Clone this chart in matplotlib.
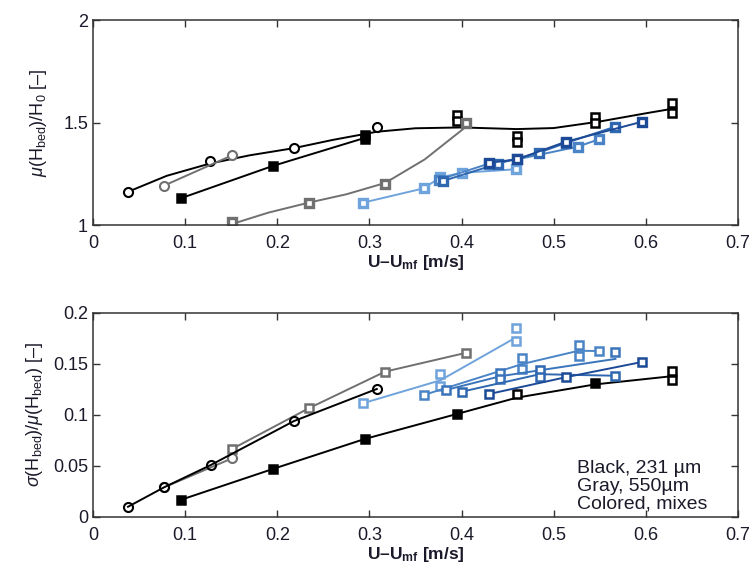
import numpy as np
import matplotlib
matplotlib.use('Agg')
import matplotlib.pyplot as plt

plt.rcParams['font.family'] = ['Liberation Sans', 'DejaVu Sans']
plt.rcParams['mathtext.fontset'] = 'custom'
plt.rcParams['mathtext.rm'] = 'Liberation Sans'
plt.rcParams['mathtext.it'] = 'Liberation Sans:italic'
plt.rcParams['mathtext.bf'] = 'Liberation Sans:bold'

# ---------------- top panel: mean bed height ----------------
# black 231 um, circles + fitted curve
top_blk_circ_x = [0.038, 0.127, 0.218, 0.308]
top_blk_circ_y = [1.162, 1.314, 1.376, 1.477]
top_blk_curve_x = [0.038, 0.08, 0.127, 0.17, 0.218, 0.26, 0.308, 0.35, 0.40, 0.46, 0.50, 0.55, 0.60, 0.63]
top_blk_curve_y = [1.162, 1.24, 1.30, 1.34, 1.375, 1.415, 1.455, 1.472, 1.476, 1.468, 1.473, 1.505, 1.545, 1.568]
# black open squares (stacked pairs)
top_blk_open_x = [0.395, 0.395, 0.46, 0.46, 0.545, 0.545, 0.628, 0.628]
top_blk_open_y = [1.535, 1.505, 1.436, 1.407, 1.528, 1.496, 1.594, 1.545]
# black filled squares
top_blk_fill_x = [0.095, 0.195, 0.295, 0.295]
top_blk_fill_y = [1.130, 1.288, 1.44, 1.42]
top_blk_fill_line_x = [0.095, 0.195, 0.295]
top_blk_fill_line_y = [1.130, 1.288, 1.425]
# gray 550 um
top_gry_circ_x = [0.077, 0.151]
top_gry_circ_y = [1.192, 1.340]
top_gry_sq_x = [0.151, 0.234, 0.317, 0.405]
top_gry_sq_y = [1.016, 1.109, 1.201, 1.496]
top_gry_curve_x = [0.151, 0.19, 0.234, 0.275, 0.317, 0.36, 0.405]
top_gry_curve_y = [1.005, 1.06, 1.109, 1.15, 1.205, 1.32, 1.48]
# mixes (coloured)
top_mix_x = [[0.293, 0.359, 0.377, 0.401, 0.459],
             [0.375, 0.43, 0.46, 0.526, 0.549],
             [0.38, 0.44, 0.484, 0.513, 0.567],
             [0.43, 0.46, 0.513, 0.596]]
top_mix_y = [[1.109, 1.179, 1.233, 1.255, 1.272],
             [1.22, 1.30, 1.32, 1.382, 1.418],
             [1.215, 1.30, 1.353, 1.40, 1.48],
             [1.304, 1.32, 1.406, 1.504]]

# ---------------- bottom panel: relative std ----------------
bot_blk_circ_x = [0.038, 0.077, 0.128, 0.218, 0.308]
bot_blk_circ_y = [0.010, 0.029, 0.051, 0.094, 0.1255]
bot_blk_sq_x = [0.095, 0.195, 0.295, 0.395, 0.46, 0.545, 0.628, 0.628]
bot_blk_sq_y = [0.0167, 0.047, 0.0765, 0.101, 0.1206, 0.1317, 0.143, 0.134]
bot_blk_sq_filled = [True, True, True, True, False, True, False, False]
bot_blk_curve_x = [0.095, 0.195, 0.295, 0.395, 0.46, 0.545, 0.628]
bot_blk_curve_y = [0.0167, 0.047, 0.0765, 0.101, 0.117, 0.130, 0.138]
bot_gry_circ_x = [0.077, 0.151]
bot_gry_circ_y = [0.029, 0.0575]
bot_gry_sq_x = [0.151, 0.234, 0.317, 0.405]
bot_gry_sq_y = [0.0667, 0.1065, 0.1425, 0.161]
bot_mix_x = [[0.293, 0.377, 0.377, 0.459, 0.459],
             [0.359, 0.466, 0.466, 0.527, 0.527, 0.549],
             [0.383, 0.442, 0.442, 0.567],
             [0.401, 0.485, 0.485, 0.567],
             [0.43, 0.513, 0.596]]
bot_mix_y = [[0.1115, 0.140, 0.128, 0.185, 0.173],
             [0.1196, 0.1556, 0.145, 0.1686, 0.158, 0.1627],
             [0.1245, 0.1415, 0.135, 0.162],
             [0.123, 0.144, 0.137, 0.1385],
             [0.1206, 0.137, 0.152]]
bot_mix_line_x = [[0.293, 0.377, 0.459],
                  [0.359, 0.466, 0.527, 0.549],
                  [0.383, 0.442, 0.567],
                  [0.401, 0.485, 0.567],
                  [0.43, 0.513, 0.596]]
bot_mix_line_y = [[0.1115, 0.134, 0.176],
                  [0.1196, 0.150, 0.163, 0.1627],
                  [0.1245, 0.138, 0.155],
                  [0.123, 0.140, 0.1385],
                  [0.1206, 0.137, 0.152]]

blue_top = ['#6fa3dc', '#4a84c6', '#2f68b0', '#1c4a96']
blue_bot = ['#6fa3dc', '#4a84c6', '#3a74bb', '#2f68b0', '#1c4a96']
gray = '#707070'

fig = plt.figure(figsize=(7.51, 5.72), dpi=100)
ax1 = fig.add_axes([0.1238, 0.6066, 0.8589, 0.3584])
ax2 = fig.add_axes([0.1238, 0.0962, 0.8589, 0.3566])

ms = 5.2
mew = 1.8
lw = 1.4

# top
ax1.plot(top_blk_curve_x, top_blk_curve_y, color='black', lw=lw)
ax1.plot(top_blk_circ_x, top_blk_circ_y, 'o', color='black', mfc='white', ms=6.5, mew=1.5)
ax1.plot(top_blk_fill_line_x, top_blk_fill_line_y, color='black', lw=lw)
ax1.plot(top_blk_fill_x, top_blk_fill_y, 's', color='black', ms=ms, mew=mew)
ax1.plot(top_blk_open_x, top_blk_open_y, 's', color='black', mfc='white', ms=ms, mew=mew, ls='none')
ax1.plot(top_gry_curve_x, top_gry_curve_y, color=gray, lw=lw)
ax1.plot(top_gry_sq_x, top_gry_sq_y, 's', color=gray, mfc='white', ms=ms, mew=mew + 0.6)
ax1.plot(top_gry_circ_x, top_gry_circ_y, 'o-', color=gray, mfc='white', ms=6.5, mew=1.5, lw=lw)
for xs, ys, c in zip(top_mix_x, top_mix_y, blue_top):
    ax1.plot(xs, ys, 's-', color=c, mfc='white', ms=ms, mew=mew + 0.6, lw=lw)

# bottom
ax2.plot(bot_blk_curve_x, bot_blk_curve_y, color='black', lw=lw)
for x, y, f in zip(bot_blk_sq_x, bot_blk_sq_y, bot_blk_sq_filled):
    ax2.plot(x, y, 's', color='black', mfc='black' if f else 'white', ms=ms, mew=mew)
ax2.plot(bot_gry_sq_x, bot_gry_sq_y, 's-', color=gray, mfc='white', ms=ms, mew=mew, lw=lw)
ax2.plot(bot_gry_circ_x, bot_gry_circ_y, 'o-', color=gray, mfc='white', ms=6.5, mew=1.5, lw=lw)
ax2.plot(bot_blk_circ_x, bot_blk_circ_y, 'o-', color='black', mfc='none', ms=6.5, mew=1.5, lw=lw)
for xs, ys, lx, ly, c in zip(bot_mix_x, bot_mix_y, bot_mix_line_x, bot_mix_line_y, blue_bot):
    ax2.plot(lx, ly, color=c, lw=lw)
    ax2.plot(xs, ys, 's', color=c, mfc='white', ms=ms, mew=mew)

ax2.text(0.750, 0.28,
         'Black, 231 \u00b5m\nGray, 550\u00b5m\nColored, mixes',
         transform=ax2.transAxes, fontsize=14, color='#1a1a2a',
         ha='left', va='top', linespacing=1.05)

ax1.set_ylim(1, 2)
ax1.set_yticks([1, 1.5, 2])
ax1.set_yticklabels(['1', '1.5', '2'])
ax2.set_ylim(0, 0.2)
ax2.set_yticks([0, 0.05, 0.1, 0.15, 0.2])
ax2.set_yticklabels(['0', '0.05', '0.1', '0.15', '0.2'])

xt = [0, 0.1, 0.2, 0.3, 0.4, 0.5, 0.6, 0.7]
for ax in (ax1, ax2):
    ax.set_xlim(0, 0.7)
    ax.set_xticks(xt)
    ax.set_xticklabels(['0', '0.1', '0.2', '0.3', '0.4', '0.5', '0.6', '0.7'])
    ax.tick_params(direction='in', top=True, right=True, length=5, width=1,
                   labelsize=13, colors='#333333', labelcolor='#1a1a2a')
    ax.tick_params(axis='x', pad=7)
    for s in ax.spines.values():
        s.set_color('#333333')
        s.set_linewidth(1.1)
    ax.set_xlabel(r'U–U$_{\mathbf{mf}}$ [m/s]', fontsize=12.5, fontweight='bold',
                  labelpad=1, color='#1a1a2a')

ax1.set_ylabel(r'$\mu$(H$_{\mathrm{bed}}$)/H$_0$ [–]', fontsize=13, color='#1a1a2a', labelpad=10)
ax2.set_ylabel(r'$\sigma$(H$_{\mathrm{bed}}$)/$\mu$(H$_{\mathrm{bed}}$) [–]', fontsize=13,
               color='#1a1a2a', labelpad=6)

fig.savefig('out.png', dpi=100)
